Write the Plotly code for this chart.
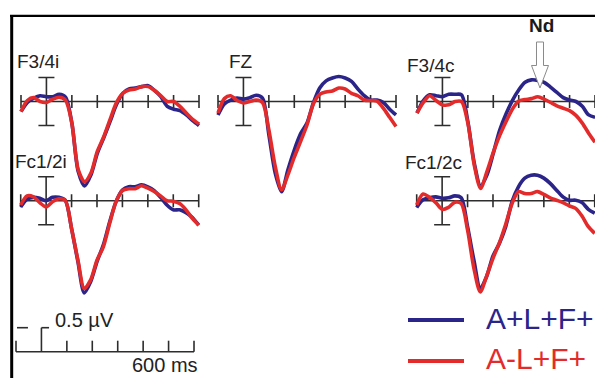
import plotly.graph_objects as go

# ---------------------------------------------------------------
# Grand-average ERP waveforms (µV) sampled every 25 ms
# ---------------------------------------------------------------
times = [-100, -75, -50, -25, 0, 25, 50, 75, 100, 125, 150, 175, 200, 225, 250,
         275, 300, 325, 350, 375, 400, 425, 450, 475, 500, 525, 550, 575, 600]

cond_names = ["A+L+F+", "A-L+F+"]
cond_colors = ["#2B2489", "#E42B2B"]

# F3/4 ipsilateral
f34i_attL = [-0.21, -0.02, 0.07, 0.12, 0.10, 0.10, 0.15, 0.09, -0.45, -1.46, -1.76, -1.53,
             -1.08, -0.76, -0.42, -0.07, 0.17, 0.26, 0.28, 0.31, 0.33, 0.23, 0.10, -0.10,
             -0.16, -0.19, -0.28, -0.40, -0.50]
f34i_noL = [-0.21, 0.02, 0.08, 0.00, -0.02, 0.05, 0.09, 0.03, -0.45, -1.42, -1.67, -1.49,
            -1.04, -0.74, -0.38, -0.03, 0.17, 0.24, 0.26, 0.31, 0.31, 0.23, 0.12, 0.00,
            0.00, -0.10, -0.24, -0.37, -0.47]

# Fc1/2 ipsilateral
fc12i_attL = [-0.13, 0.03, 0.07, 0.05, 0.00, 0.07, 0.07, 0.01, -0.58, -1.27, -1.92, -1.69,
              -1.27, -0.92, -0.44, -0.02, 0.22, 0.29, 0.29, 0.33, 0.29, 0.21, 0.07, -0.09,
              -0.19, -0.19, -0.25, -0.35, -0.51]
fc12i_noL = [-0.09, 0.10, 0.08, -0.04, -0.13, -0.02, 0.04, 0.01, -0.58, -1.24, -1.83, -1.65,
             -1.24, -0.96, -0.47, -0.02, 0.21, 0.25, 0.25, 0.31, 0.26, 0.19, 0.10, 0.00,
             -0.01, -0.06, -0.19, -0.37, -0.51]

# Fz midline
fz_attL = [-0.28, -0.05, 0.03, 0.07, 0.05, 0.08, 0.13, 0.07, -0.69, -1.49, -1.88, -1.42,
           -1.01, -0.67, -0.45, -0.03, 0.28, 0.43, 0.49, 0.52, 0.49, 0.42, 0.26, 0.12,
           0.03, 0.03, -0.02, -0.16, -0.28]
fz_noL = [-0.24, 0.06, 0.12, 0.02, -0.03, 0.00, 0.03, -0.02, -0.59, -1.35, -1.84, -1.53,
          -1.16, -0.83, -0.49, -0.05, 0.15, 0.20, 0.22, 0.28, 0.26, 0.17, 0.12, 0.03,
          0.02, 0.01, -0.14, -0.33, -0.52]

# F3/4 contralateral
f34c_attL = [-0.24, 0.02, 0.14, 0.12, 0.10, 0.15, 0.15, 0.14, -0.42, -1.28, -1.76, -1.53,
             -1.08, -0.60, -0.26, 0.02, 0.24, 0.40, 0.45, 0.44, 0.40, 0.30, 0.19, 0.08,
             0.03, 0.00, -0.10, -0.28, -0.33]
f34c_noL = [-0.24, -0.02, 0.12, 0.02, -0.07, -0.07, 0.00, 0.00, -0.45, -1.32, -1.81, -1.46,
            -1.06, -0.71, -0.42, -0.16, 0.01, 0.04, 0.06, 0.10, 0.05, -0.02, -0.09, -0.14,
            -0.19, -0.29, -0.45, -0.66, -0.85]

# Fc1/2 contralateral
fc12c_attL = [-0.14, 0.02, 0.06, 0.08, 0.05, 0.06, 0.10, 0.06, -0.54, -1.24, -1.83, -1.58,
              -1.15, -0.89, -0.54, -0.02, 0.29, 0.47, 0.53, 0.53, 0.47, 0.36, 0.22, 0.08,
              0.01, 0.01, -0.04, -0.18, -0.26]
fc12c_noL = [-0.09, 0.14, 0.07, -0.04, -0.18, -0.14, -0.03, -0.06, -0.61, -1.41, -1.90, -1.57,
             -1.20, -0.88, -0.49, -0.06, 0.19, 0.15, 0.15, 0.19, 0.13, 0.06, 0.01, -0.04,
             -0.11, -0.16, -0.32, -0.54, -0.68]

# time axis ticks (ms) and amplitude calibration (µV)
tick_ms = [-100, 100, 200, 300, 400, 500, 600]
cal_uv = 0.5
cal_ms = 600

# ---------------------------------------------------------------
# Page geometry
# ---------------------------------------------------------------
W, H = 595, 378
KX = 25.43 / 100.0   # px per ms
KY = 48.0            # px per µV
FONT = "Liberation Sans, Arial, Helvetica, sans-serif"
AXC = "#2d2d2d"


def pxx(x):
    return x / W


def pxy(y):
    return 1 - y / H


# x0: pixel column of -100 ms, base: pixel row of 0 µV
panels = [
    dict(label="F3/4i", a=f34i_attL, b=f34i_noL, x0=21.0, base=101.5, lab=(14.5, 61)),
    dict(label="Fc1/2i", a=fc12i_attL, b=fc12i_noL, x0=20.7, base=200.7, lab=(12.5, 161.5)),
    dict(label="FZ", a=fz_attL, b=fz_noL, x0=218.0, base=101.5, lab=(226.5, 61.5)),
    dict(label="F3/4c", a=f34c_attL, b=f34c_noL, x0=417.0, base=101.5, lab=(404.5, 65.5)),
    dict(label="Fc1/2c", a=fc12c_attL, b=fc12c_noL, x0=416.7, base=200.7, lab=(402.5, 163)),
]

fig = go.Figure()
layout_axes = {}
shapes = []
annotations = []


def add_axes(idx, x0, base, top_px, bot_px, pad=14):
    n = "" if idx == 1 else str(idx)
    left = max(0.0, x0 - pad)
    right = min(float(W), x0 + 700 * KX + pad)
    xr = [-100 + (left - x0) / KX, -100 + (right - x0) / KX]
    yr = [-(bot_px - base) / KY, (base - top_px) / KY]
    layout_axes["xaxis" + n] = dict(domain=[left / W, right / W], range=xr, visible=False,
                                    anchor="y" + n, fixedrange=True)
    layout_axes["yaxis" + n] = dict(domain=[1 - bot_px / H, 1 - top_px / H], range=yr,
                                    visible=False, anchor="x" + n, fixedrange=True)
    return "x" + n, "y" + n


def seg(xr_, yr_, xa, ya, xb, yb, width=1.6, color=AXC, layer="below"):
    shapes.append(dict(type="line", xref=xr_, yref=yr_, x0=xa, y0=ya, x1=xb, y1=yb,
                       line=dict(color=color, width=width), layer=layer))


tick_half = 6.5 / KY
bar_half = 0.5
cap_half = 8.0 / KX

for i, p in enumerate(panels, start=1):
    xa, ya = add_axes(i, p["x0"], p["base"], p["base"] - 48, p["base"] + 100)
    # baseline with crossing ticks and amplitude bar at stimulus onset
    seg(xa, ya, times[0], 0, times[-1], 0)
    for t in tick_ms:
        seg(xa, ya, t, -tick_half, t, tick_half)
    seg(xa, ya, 0, -bar_half, 0, bar_half)
    seg(xa, ya, -cap_half, bar_half, cap_half, bar_half)
    seg(xa, ya, -cap_half, -bar_half, cap_half, -bar_half)
    for vals, name, col in ((p["a"], cond_names[0], cond_colors[0]),
                            (p["b"], cond_names[1], cond_colors[1])):
        fig.add_trace(go.Scatter(x=times, y=vals, xaxis=xa, yaxis=ya, mode="lines",
                                 name=name, showlegend=False,
                                 line=dict(color=col, width=3.6, shape="spline",
                                           smoothing=0.8),
                                 cliponaxis=True, hoverinfo="skip"))
    annotations.append(dict(text=p["label"], xref="paper", yref="paper",
                            x=pxx(p["lab"][0]), y=pxy(p["lab"][1]),
                            xanchor="left", yanchor="middle", showarrow=False,
                            font=dict(family=FONT, size=19, color="#222222")))

# calibration bar (bottom left)
cx, cy = add_axes(6, 16.0, 351.7, 300, 362)
seg(cx, cy, times[0], 0, times[-1], 0)
for t in tick_ms:
    seg(cx, cy, t, 0, t, 11 / KY)
seg(cx, cy, 0, 0, 0, cal_uv)
seg(cx, cy, 0, cal_uv, 30, cal_uv)
seg(cx, cy, -96, cal_uv, -53, cal_uv)
annotations.append(dict(text=f"{cal_uv} µV", xref="paper", yref="paper",
                        x=pxx(52.5), y=pxy(319.5), xanchor="left", yanchor="middle",
                        showarrow=False, font=dict(family=FONT, size=20, color="#222222")))
annotations.append(dict(text=f"{cal_ms} ms", xref="paper", yref="paper",
                        x=pxx(130), y=pxy(364.5), xanchor="left", yanchor="middle",
                        showarrow=False, font=dict(family=FONT, size=20, color="#222222")))

# Nd label with hollow arrow
annotations.append(dict(text="<b>Nd</b>", xref="paper", yref="paper",
                        x=pxx(541.5), y=pxy(25), xanchor="center", yanchor="middle",
                        showarrow=False, font=dict(family=FONT, size=19, color="#1a1a1a")))
arrow_pts = [(536.5, 42), (543.5, 42), (543.5, 65.5), (548.5, 65.5), (540, 88),
             (531.5, 65.5), (536.5, 65.5)]
path = "M " + " L ".join(f"{pxx(x):.5f},{pxy(y):.5f}" for x, y in arrow_pts) + " Z"
shapes.append(dict(type="path", xref="paper", yref="paper", path=path,
                   fillcolor="white", line=dict(color="#8a8a8a", width=1), layer="above"))

# legend
for (ly, ty), name, col in zip(((320, 318.5), (361, 358.5)), cond_names, cond_colors):
    shapes.append(dict(type="line", xref="paper", yref="paper", x0=pxx(408), x1=pxx(464),
                       y0=pxy(ly), y1=pxy(ly), line=dict(color=col, width=4)))
    annotations.append(dict(text=name, xref="paper", yref="paper", x=pxx(483.5), y=pxy(ty),
                            xanchor="left", yanchor="middle", showarrow=False,
                            font=dict(family=FONT, size=30, color=col)))

# outer frame (top and left edges)
shapes.append(dict(type="line", xref="paper", yref="paper", x0=pxx(10), x1=1.0,
                   y0=pxy(15.8), y1=pxy(15.8), line=dict(color="black", width=2.2)))
shapes.append(dict(type="line", xref="paper", yref="paper", x0=pxx(11.7), x1=pxx(11.7),
                   y0=pxy(15), y1=0.0, line=dict(color="black", width=3)))

fig.update_layout(width=W, height=H, margin=dict(l=0, r=0, t=0, b=0),
                  paper_bgcolor="white", plot_bgcolor="rgba(0,0,0,0)",
                  showlegend=False, shapes=shapes, annotations=annotations,
                  **layout_axes)

fig.write_html("out.html", config=dict(displayModeBar=False))
